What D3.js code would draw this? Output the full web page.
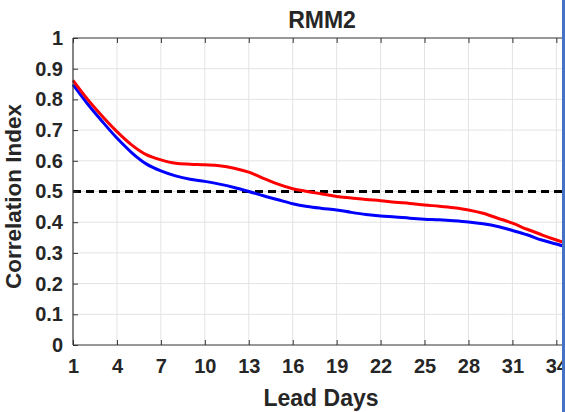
<!DOCTYPE html>
<html>
<head>
<meta charset="utf-8">
<script src="https://cdn.jsdelivr.net/npm/d3@7"></script>
<style>
  body { margin: 0; background: #fff; }
  text { font-family: "Liberation Sans", Arial, sans-serif; font-weight: bold; fill: #262626; }
</style>
</head>
<body>
<svg></svg>
<script>
const leadDays = d3.range(1, 36);
const redSeries = [0.862, 0.800, 0.745, 0.695, 0.652, 0.620, 0.603, 0.592, 0.589, 0.587,
  0.584, 0.576, 0.563, 0.543, 0.524, 0.509, 0.500, 0.492, 0.484, 0.479,
  0.474, 0.470, 0.465, 0.461, 0.456, 0.452, 0.447, 0.440, 0.429, 0.413,
  0.397, 0.377, 0.359, 0.342, 0.326];
const blueSeries = [0.848, 0.785, 0.728, 0.674, 0.627, 0.590, 0.567, 0.551, 0.540, 0.533,
  0.524, 0.513, 0.500, 0.486, 0.473, 0.460, 0.451, 0.445, 0.440, 0.432,
  0.425, 0.420, 0.417, 0.413, 0.410, 0.408, 0.405, 0.401, 0.395, 0.386,
  0.373, 0.359, 0.342, 0.329, 0.315];
const xTicks = [1, 4, 7, 10, 13, 16, 19, 22, 25, 28, 31, 34];
const yTicks = [0, 0.1, 0.2, 0.3, 0.4, 0.5, 0.6, 0.7, 0.8, 0.9, 1];
const threshold = 0.5;

const width = 565;
const height = 412;
const margin = { top: 38, left: 73, bottom: 345 };
const plotRight = 571;

const svg = d3.select('svg')
  .attr('width', width)
  .attr('height', height);

const x = d3.scaleLinear().domain([1, 35]).range([margin.left, plotRight]);
const y = d3.scaleLinear().domain([0, 1]).range([margin.bottom, margin.top]);

// grid
svg.append('g')
  .selectAll('line.vg')
  .data(xTicks.slice(1))
  .enter().append('line')
  .attr('x1', d => x(d)).attr('x2', d => x(d))
  .attr('y1', margin.top).attr('y2', margin.bottom)
  .attr('stroke', '#e3e3e3').attr('stroke-width', 1);

svg.append('g')
  .selectAll('line.hg')
  .data(yTicks.slice(1, -1))
  .enter().append('line')
  .attr('x1', margin.left).attr('x2', plotRight)
  .attr('y1', d => y(d)).attr('y2', d => y(d))
  .attr('stroke', '#e3e3e3').attr('stroke-width', 1);

// threshold line
svg.append('line')
  .attr('x1', x(1)).attr('x2', x(35))
  .attr('y1', y(threshold)).attr('y2', y(threshold))
  .attr('stroke', '#000').attr('stroke-width', 3)
  .attr('stroke-dasharray', '8,5');

const line = series => d3.line()
  .x((d, i) => x(leadDays[i]))
  .y(d => y(d))
  .curve(d3.curveMonotoneX)(series);

svg.append('path')
  .attr('d', line(blueSeries))
  .attr('fill', 'none').attr('stroke', '#0000ff').attr('stroke-width', 3);

svg.append('path')
  .attr('d', line(redSeries))
  .attr('fill', 'none').attr('stroke', '#ff0000').attr('stroke-width', 3);

// axes
const xAxis = svg.append('g')
  .attr('transform', `translate(0,${margin.bottom})`)
  .call(d3.axisBottom(x).tickValues(xTicks).tickSize(-5).tickPadding(14));

const xTop = svg.append('g')
  .attr('transform', `translate(0,${margin.top})`)
  .call(d3.axisTop(x).tickValues(xTicks).tickSize(-5).tickFormat(''));

const yAxis = svg.append('g')
  .attr('transform', `translate(${margin.left},0)`)
  .call(d3.axisLeft(y).tickValues(yTicks).tickSize(-5).tickPadding(10)
    .tickFormat(d => d === 0 || d === 1 ? d3.format('d')(d) : d3.format('.1f')(d)));

[xAxis, xTop, yAxis].forEach(g => {
  g.select('.domain').attr('stroke', '#333').attr('stroke-width', 1.2);
  g.selectAll('.tick line').attr('stroke', '#333');
  g.selectAll('.tick text')
    .style('font-size', '20px')
    .style('font-family', '"Liberation Sans", Arial, sans-serif')
    .style('font-weight', 'bold')
    .attr('fill', '#262626');
});
xAxis.select('.domain').attr('d', `M${margin.left},0H${plotRight}`);
xTop.select('.domain').attr('d', `M${margin.left},0H${plotRight}`);
yAxis.select('.domain').attr('d', `M0,${margin.bottom}V${margin.top}`);

// labels
svg.append('text')
  .attr('x', 322).attr('y', 28)
  .attr('text-anchor', 'middle')
  .style('font-size', '23px')
  .text('RMM2');

svg.append('text')
  .attr('x', 321).attr('y', 406)
  .attr('text-anchor', 'middle')
  .style('font-size', '23px')
  .text('Lead Days');

svg.append('text')
  .attr('transform', `translate(21,${y(0.5) + 5}) rotate(-90)`)
  .attr('text-anchor', 'middle')
  .style('font-size', '22.5px')
  .text('Correlation Index');

// selection border at the right edge of the screenshot
svg.append('rect')
  .attr('x', 562).attr('y', 0)
  .attr('width', 3).attr('height', height)
  .attr('fill', '#4472c4');
</script>
</body>
</html>
